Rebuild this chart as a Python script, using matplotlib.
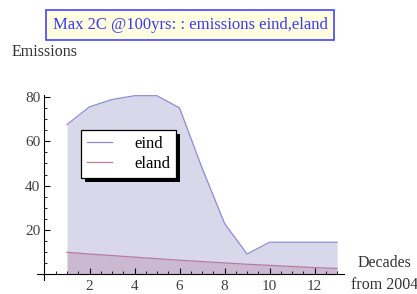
import matplotlib.pyplot as plt
from matplotlib.patches import Rectangle

decades = [1, 2, 3, 4, 5, 6, 7, 8, 9, 10, 11, 12, 13]
eind = [67.5, 75.5, 78.8, 80.5, 80.5, 75, 48, 23, 9.2, 14.5, 14.5, 14.5, 14.5]
eland = [10, 9.2, 8.5, 7.8, 7.1, 6.4, 5.8, 5.2, 4.6, 4.1, 3.6, 3.1, 2.7]

serif = ['Liberation Serif', 'DejaVu Serif']
plt.rcParams['font.family'] = serif

fig = plt.figure(figsize=(4.17, 2.94), dpi=100)
ax = fig.add_axes([0.0878, 0.0476, 0.7367, 0.6306])

c_ind = (0.24, 0.24, 0.6)
c_land = (0.6, 0.24, 0.44)
ax.fill_between(decades, eind, 0, color=c_ind, alpha=0.2, lw=0)
ax.fill_between(decades, eland, 0, color=c_land, alpha=0.2, lw=0)
ax.plot(decades, eind, color='#8c8cd2', lw=0.9, label='eind')
ax.plot(decades, eland, color='#b87aa2', lw=0.9, label='eland')

ax.set_xlim(-0.35, 13.3)
ax.set_ylim(-2.5, 81)
for s in ['top', 'right']:
    ax.spines[s].set_visible(False)
ax.spines['left'].set_position(('data', 0))
ax.spines['bottom'].set_position(('data', 0))
ax.spines['left'].set_linewidth(0.8)
ax.spines['bottom'].set_linewidth(0.8)
ax.set_xticks([2, 4, 6, 8, 10, 12])
ax.set_xticks([x / 2 for x in range(1, 27)], minor=True)
ax.set_yticks([20, 40, 60, 80])
ax.set_yticks(range(5, 81, 5), minor=True)
ax.tick_params(which='both', direction='in', colors='black', labelcolor='#404040', labelsize=11)
ax.tick_params(which='major', length=4, width=0.8)
ax.tick_params(which='minor', length=2.2, width=0.6)
ax.tick_params(axis='x', pad=4)
ax.tick_params(axis='y', pad=3)
ax.patch.set_alpha(0)

leg = ax.legend(loc='upper left', bbox_to_anchor=(0.146, 0.808), frameon=True, fancybox=False,
                edgecolor='black', framealpha=1, fontsize=12, handlelength=1.5,
                handletextpad=1.3, borderpad=0.35, labelspacing=0.25, borderaxespad=0)
leg.get_frame().set_linewidth(0.9)
leg.set_zorder(6)
fig.canvas.draw()
bb = leg.get_window_extent().transformed(fig.transFigure.inverted())
shadow = Rectangle((bb.x0 + 4 / 417, bb.y0 - 4 / 294), bb.width, bb.height,
                   transform=fig.transFigure, facecolor='black', edgecolor='none', zorder=5)
ax.add_artist(shadow)
shadow.set_clip_on(False)

fig.text(0.4556, 0.915, 'Max 2C @100yrs: : emissions eind,eland', ha='center', va='center',
         fontsize=12, color='#3a3af0',
         bbox=dict(boxstyle='square,pad=0.42', facecolor='#ffffe0', edgecolor='#4444ff', lw=1.2))
fig.text(0.107, 0.823, 'Emissions', ha='center', va='center', fontsize=11.5, color='#333333')
fig.text(0.922, 0.105, 'Decades', ha='center', va='center', fontsize=11.5, color='#333333')
fig.text(0.922, 0.032, 'from 2004', ha='center', va='center', fontsize=11.5, color='#333333')

fig.savefig('out.png', dpi=100)
